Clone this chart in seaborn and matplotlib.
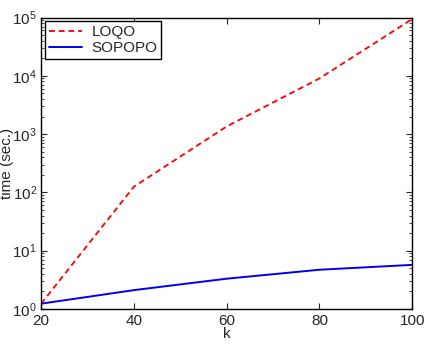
import matplotlib
matplotlib.use("Agg")
import matplotlib.pyplot as plt
import seaborn as sns
import pandas as pd
from matplotlib.ticker import LogLocator, NullFormatter

k_values = [20, 40, 60, 80, 100]
loqo_times = [1.23, 125, 1350, 9000, 94000]
sopopo_times = [1.23, 2.1, 3.3, 4.7, 5.7]
series_names = ["LOQO", "SOPOPO"]
x_ticks = [20, 40, 60, 80, 100]

sns.set_style("ticks")
plt.rcParams['font.family'] = ['Liberation Sans', 'DejaVu Sans']
plt.rcParams['mathtext.default'] = 'regular'
plt.rcParams['font.size'] = 11

df = pd.DataFrame({
    "k": k_values * 2,
    "time": loqo_times + sopopo_times,
    "method": [series_names[0]] * len(k_values) + [series_names[1]] * len(k_values),
})

fig = plt.figure(figsize=(4.24, 3.44), dpi=100)
ax = fig.add_axes([0.097, 0.102, 0.875, 0.847])

sns.lineplot(data=df, x="k", y="time", hue="method", style="method",
             palette={"LOQO": "#ee1111", "SOPOPO": "#0000ee"},
             dashes={"LOQO": (3, 2), "SOPOPO": ""},
             linewidth=1.4, ax=ax, legend=True)

ax.set_yscale("log")
ax.set_xlim(20, 100)
ax.set_ylim(1, 1e5)
ax.set_xticks(x_ticks)
ax.set_xticklabels([str(t) for t in x_ticks])
ax.yaxis.set_major_locator(LogLocator(base=10, numticks=10))
ax.yaxis.set_minor_locator(LogLocator(base=10, subs=range(2, 10), numticks=20))
ax.yaxis.set_minor_formatter(NullFormatter())

ax.tick_params(which="both", direction="in", top=True, right=True, labelsize=11)
ax.tick_params(which="major", length=4, width=0.8)
ax.tick_params(which="minor", length=2, width=0.6)
ax.tick_params(axis="x", pad=4)
ax.tick_params(axis="y", pad=3)
for s in ax.spines.values():
    s.set_linewidth(1.0)
    s.set_color("black")

ax.set_xlabel("k", fontsize=11, labelpad=-1)
ax.set_ylabel("time (sec.)", fontsize=11, labelpad=-1)

handles, labels = ax.get_legend_handles_labels()
leg = ax.legend(handles=handles, labels=labels, loc="upper left",
                fancybox=False, framealpha=1, edgecolor="black",
                handlelength=2.2, handletextpad=0.6, borderaxespad=0.25,
                fontsize=11, borderpad=0.25, labelspacing=0.15)
leg.get_frame().set_linewidth(1.0)

fig.savefig("out.png", dpi=100)
